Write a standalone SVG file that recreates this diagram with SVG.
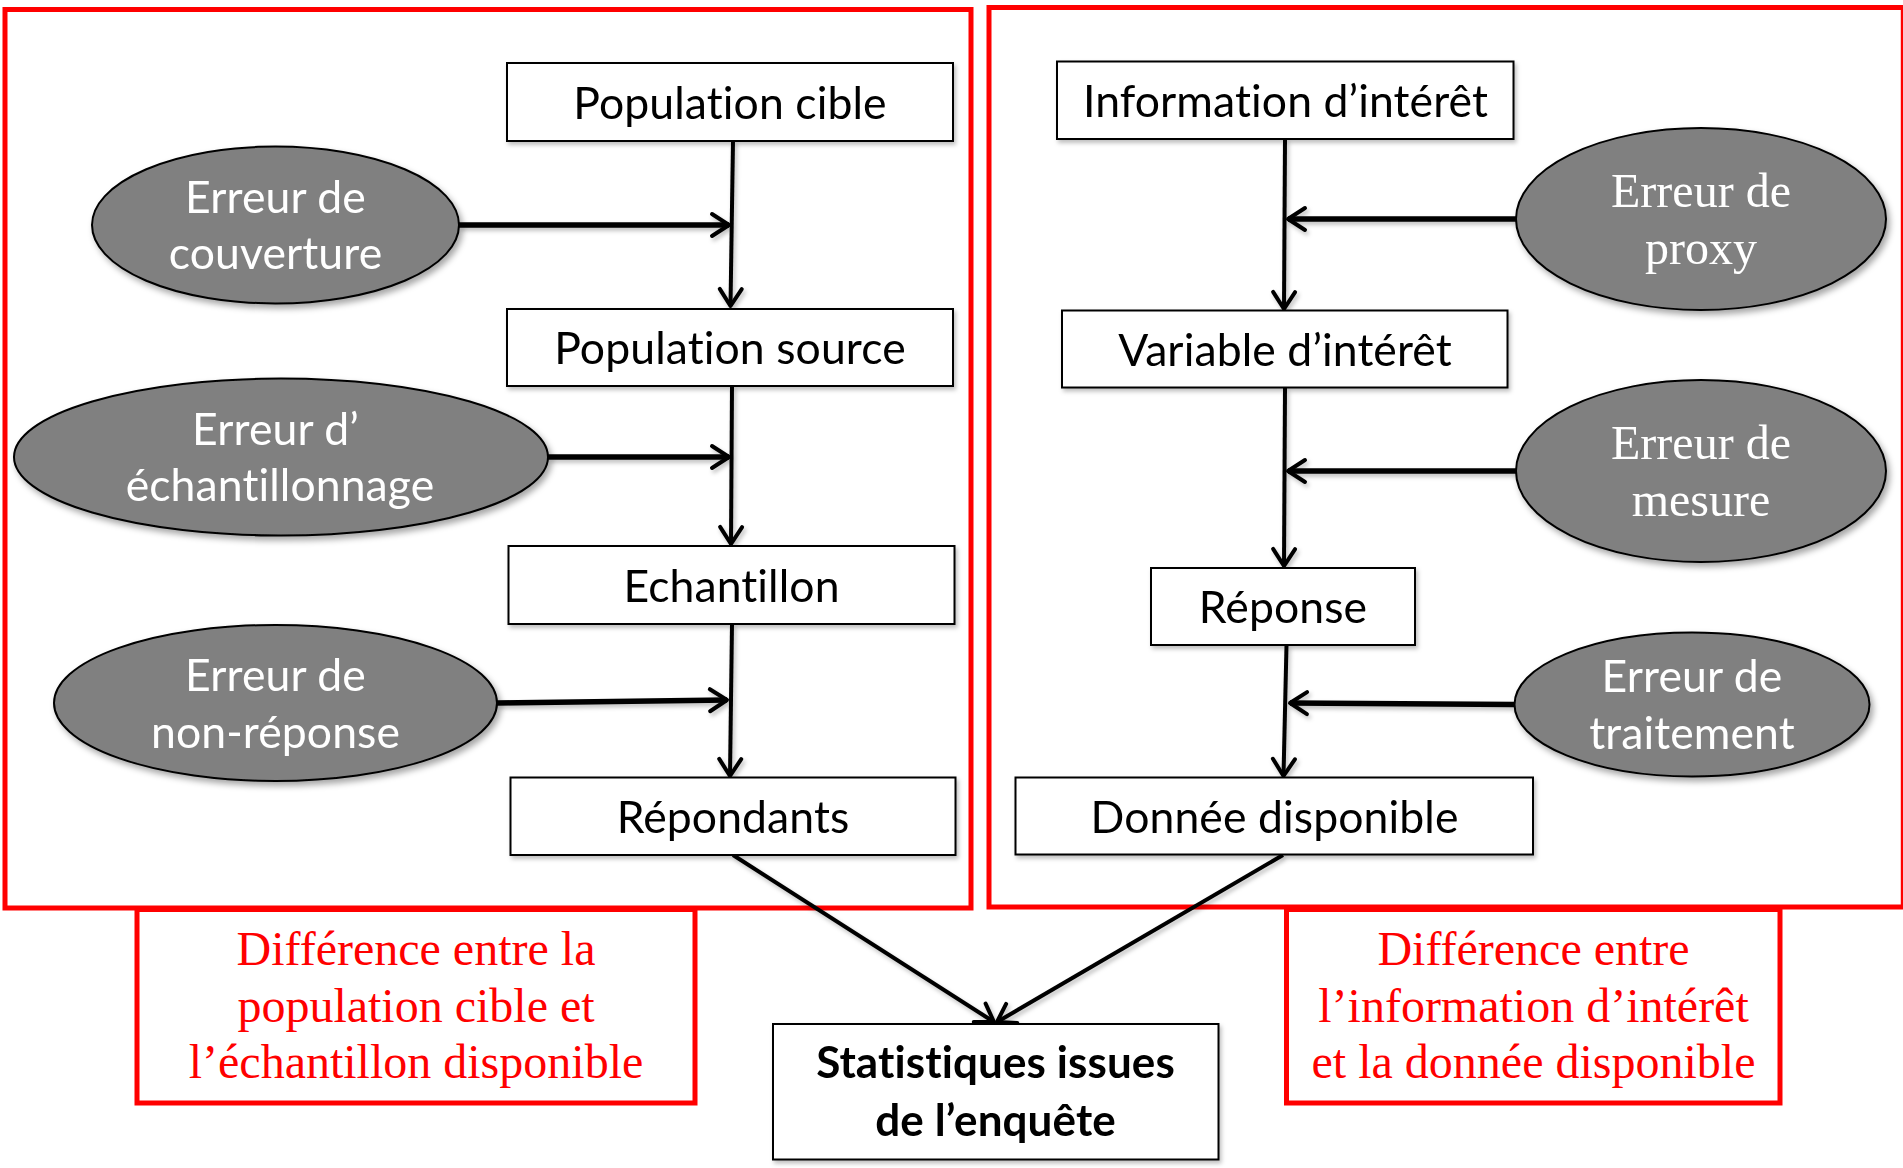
<svg xmlns="http://www.w3.org/2000/svg" width="1903" height="1168" viewBox="0 0 1903 1168">
  <style>
    .frame { fill: none; stroke: #FF0000; stroke-width: 5; }
    .label-box { fill: #FFFFFF; stroke: #FF0000; stroke-width: 5; }
    .box { fill: #FFFFFF; stroke: #000000; stroke-width: 2; }
    .err { fill: #808080; stroke: #000000; stroke-width: 2; }
    .t, .tb, .tw { font-family: Lato, "Open Sans", "Liberation Sans", sans-serif; font-size: 44.5px; text-anchor: middle; letter-spacing: 0.1px; font-variant-ligatures: none; font-feature-settings: "liga" 0, "clig" 0, "calt" 0, "dlig" 0; }
    .t { fill: #000000; }
    .tb { fill: #000000; font-weight: bold; font-size: 44px; }
    .tw { fill: #FFFFFF; }
    .sw { font-family: "Liberation Serif", "Times New Roman", serif; font-size: 48px; fill: #FFFFFF; text-anchor: middle; }
    .red { font-family: "Liberation Serif", "Times New Roman", serif; font-size: 48px; fill: #FF0000; text-anchor: middle; }
    .flow { fill: none; stroke: #000000; stroke-width: 4; marker-end: url(#open); }
    .feed { fill: none; stroke: #000000; stroke-width: 5.5; marker-end: url(#open); }
  </style>
  <defs>
    <marker id="open" viewBox="-22 -14 26 28" refX="0" refY="0" markerWidth="26" markerHeight="28" markerUnits="userSpaceOnUse" orient="auto">
      <path d="M-17,-11 L0,0 L-17,11" fill="none" stroke="#000000" stroke-width="4" stroke-linecap="round" stroke-linejoin="round"/>
    </marker>
    <filter id="shadow" x="-10%" y="-10%" width="130%" height="130%">
      <feDropShadow dx="3" dy="4" stdDeviation="3" flood-color="#000000" flood-opacity="0.35"/>
    </filter>
    <filter id="soft" x="-5%" y="-5%" width="115%" height="130%">
      <feDropShadow dx="2" dy="3" stdDeviation="2" flood-color="#000000" flood-opacity="0.25"/>
    </filter>
  </defs>

  <!-- Outer frames -->
  <rect id="frame-sampling" class="frame" x="5" y="9.5" width="966" height="898.5"/>
  <rect id="frame-measurement" class="frame" x="989" y="7.5" width="914.3" height="899.5"/>

  <!-- Summary labels under each frame -->
  <g id="label-sampling">
    <rect class="label-box" x="137" y="909.5" width="558" height="193.5"/>
    <text class="red" x="416" y="965">Différence entre la</text>
    <text class="red" x="416" y="1021.5">population cible et</text>
    <text class="red" x="416" y="1078">l’échantillon disponible</text>
  </g>
  <g id="label-measurement">
    <rect class="label-box" x="1286.5" y="909.5" width="493.5" height="193.5"/>
    <text class="red" x="1533.5" y="965">Différence entre</text>
    <text class="red" x="1533.5" y="1021.5">l’information d’intérêt</text>
    <text class="red" x="1533.5" y="1078">et la donnée disponible</text>
  </g>

  <!-- Connectors -->
  <g id="connectors" filter="url(#soft)">
    <path class="flow" d="M733,141 L730.5,306"/>
    <path class="flow" d="M732,386 L731,544"/>
    <path class="flow" d="M732,624 L730,776"/>
    <path class="feed" d="M459,225 L729,225"/>
    <path class="feed" d="M548,457 L729,457"/>
    <path class="feed" d="M497,703 L727,700"/>
    <path class="flow" d="M1285,139 L1284,309"/>
    <path class="flow" d="M1285,388 L1284,566"/>
    <path class="flow" d="M1286.5,645 L1283.5,776"/>
    <path class="feed" d="M1516,219 L1288,219"/>
    <path class="feed" d="M1516,471 L1288,471"/>
    <path class="feed" d="M1514,704.5 L1290,703"/>
    <path class="flow" d="M733,855 L994,1022"/>
    <path class="flow" d="M1283,855 L997,1022"/>
  </g>

  <!-- Sampling chain -->
  <g id="population-cible" filter="url(#soft)">
    <rect class="box" x="507" y="63" width="446" height="78"/>
    <text class="t" x="730" y="119">Population cible</text>
  </g>
  <g id="population-source" filter="url(#soft)">
    <rect class="box" x="507" y="309" width="446" height="77"/>
    <text class="t" x="730" y="364">Population source</text>
  </g>
  <g id="echantillon" filter="url(#soft)">
    <rect class="box" x="508.5" y="546" width="446" height="78"/>
    <text class="t" x="731.5" y="601.5">Echantillon</text>
  </g>
  <g id="repondants" filter="url(#soft)">
    <rect class="box" x="510.5" y="777.5" width="445" height="77.5"/>
    <text class="t" x="733" y="833">Répondants</text>
  </g>

  <!-- Measurement chain -->
  <g id="information-interet" filter="url(#soft)">
    <rect class="box" x="1057" y="61.5" width="456.5" height="77.5"/>
    <text class="t" x="1285.5" y="117">Information d’intérêt</text>
  </g>
  <g id="variable-interet" filter="url(#soft)">
    <rect class="box" x="1062" y="310.5" width="445.5" height="77"/>
    <text class="t" x="1285" y="365.5">Variable d’intérêt</text>
  </g>
  <g id="reponse" filter="url(#soft)">
    <rect class="box" x="1151" y="568" width="264" height="77"/>
    <text class="t" x="1283" y="623">Réponse</text>
  </g>
  <g id="donnee-disponible" filter="url(#soft)">
    <rect class="box" x="1015.5" y="777.5" width="517.5" height="77"/>
    <text class="t" x="1274.5" y="833">Donnée disponible</text>
  </g>

  <!-- Final output -->
  <g id="statistiques" filter="url(#soft)">
    <rect class="box" x="773" y="1024" width="445.5" height="135.5"/>
    <text class="tb" x="995.5" y="1078">Statistiques issues</text>
    <text class="tb" x="995.5" y="1136">de l’enquête</text>
  </g>

  <!-- Error sources, sampling side -->
  <g id="erreur-couverture" filter="url(#shadow)">
    <ellipse class="err" cx="275.5" cy="225" rx="183.5" ry="78.5"/>
    <text class="tw" x="275.5" y="212.5">Erreur de</text>
    <text class="tw" x="275.5" y="269">couverture</text>
  </g>
  <g id="erreur-echantillonnage" filter="url(#shadow)">
    <ellipse class="err" cx="281" cy="457" rx="267" ry="78.5"/>
    <text class="tw" x="275.5" y="444.5">Erreur d’</text>
    <text class="tw" x="280" y="501">échantillonnage</text>
  </g>
  <g id="erreur-non-reponse" filter="url(#shadow)">
    <ellipse class="err" cx="275.5" cy="703" rx="221.5" ry="78"/>
    <text class="tw" x="275.5" y="690.5">Erreur de</text>
    <text class="tw" x="275.5" y="747.5">non-réponse</text>
  </g>

  <!-- Error sources, measurement side -->
  <g id="erreur-proxy" filter="url(#shadow)">
    <ellipse class="err" cx="1701" cy="219" rx="185" ry="91"/>
    <text class="sw" x="1701" y="207">Erreur de</text>
    <text class="sw" x="1701" y="264">proxy</text>
  </g>
  <g id="erreur-mesure" filter="url(#shadow)">
    <ellipse class="err" cx="1701" cy="471" rx="185" ry="91"/>
    <text class="sw" x="1701" y="459">Erreur de</text>
    <text class="sw" x="1701" y="516">mesure</text>
  </g>
  <g id="erreur-traitement" filter="url(#shadow)">
    <ellipse class="err" cx="1692" cy="704.5" rx="177.5" ry="72"/>
    <text class="tw" x="1692" y="692">Erreur de</text>
    <text class="tw" x="1692" y="749">traitement</text>
  </g>
</svg>
